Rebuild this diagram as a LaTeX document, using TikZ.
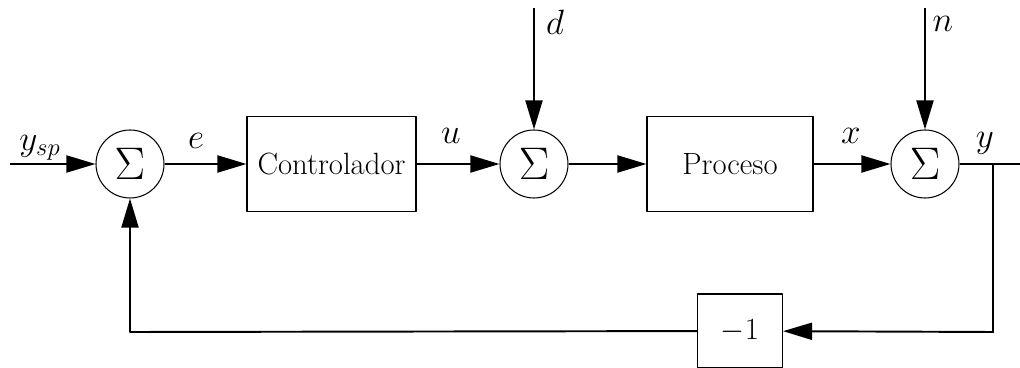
\RequirePackage{fix-cm}
\documentclass[tikz,border=0pt]{standalone}
\usetikzlibrary{arrows.meta}
\begin{document}
\begin{tikzpicture}[>={Triangle[length=0.58cm,width=0.34cm]}, line join=round,
  font=\fontsize{17.5}{21}\selectfont,
  sumnode/.style={draw, circle, line width=0.6pt, minimum size=1.36cm, inner sep=0pt, font=\fontsize{26}{30}\selectfont},
  blockbox/.style={draw, line width=0.6pt, minimum height=1.9cm, inner sep=0pt},
  sig/.style={line width=1.1pt},
  lbl/.style={font=\fontsize{20}{24}\selectfont}]
\useasboundingbox (0,0) rectangle (20.4,7.36);
% bloques
\node[sumnode] (suma1) at (2.60,4.08) {$\Sigma$};
\node[blockbox, minimum width=3.38cm] (ctrl) at (6.63,4.08) {Controlador};
\node[sumnode] (suma2) at (10.68,4.08) {$\Sigma$};
\node[blockbox, minimum width=3.32cm] (proc) at (14.60,4.08) {Proceso};
\node[sumnode] (suma3) at (18.50,4.08) {$\Sigma$};
\node[blockbox, minimum width=1.7cm, minimum height=1.48cm] (gain) at (14.80,0.74) {$-1$};
% puntos libres
\coordinate (ysp) at (0.2,4.08);
\coordinate (dtop) at (10.68,7.20);
\coordinate (ntop) at (18.50,7.20);
\coordinate (tap) at (19.86,4.08);
\coordinate (yend) at (20.4,4.08);
\coordinate (fbr) at (19.86,0.72);
\coordinate (fbl) at (2.60,0.72);
% señales
\draw[sig,->] (ysp) -- (suma1);
\draw[sig,->] (suma1) -- (ctrl);
\draw[sig,->] (ctrl) -- (suma2);
\draw[sig,->] (dtop) -- (suma2);
\draw[sig,->] (suma2) -- (proc);
\draw[sig,->] (proc) -- (suma3);
\draw[sig,->] (ntop) -- (suma3);
\draw[sig] (suma3) -- (yend);
\draw[sig,->] (tap) -- (fbr) -- (gain);
\draw[sig,->] (gain) -- (fbl) -- (suma1);
% etiquetas
\node[lbl] (lysp) at (0.80,4.40) {$y_{sp}$};
\node[lbl] (le) at (3.92,4.54) {$e$};
\node[lbl] (lu) at (9.02,4.64) {$u$};
\node[lbl] (ld) at (11.10,6.92) {$d$};
\node[lbl] (lx) at (17.02,4.64) {$x$};
\node[lbl] (ln) at (18.86,6.88) {$n$};
\node[lbl] (ly) at (19.70,4.50) {$y$};
\end{tikzpicture}
\end{document}
